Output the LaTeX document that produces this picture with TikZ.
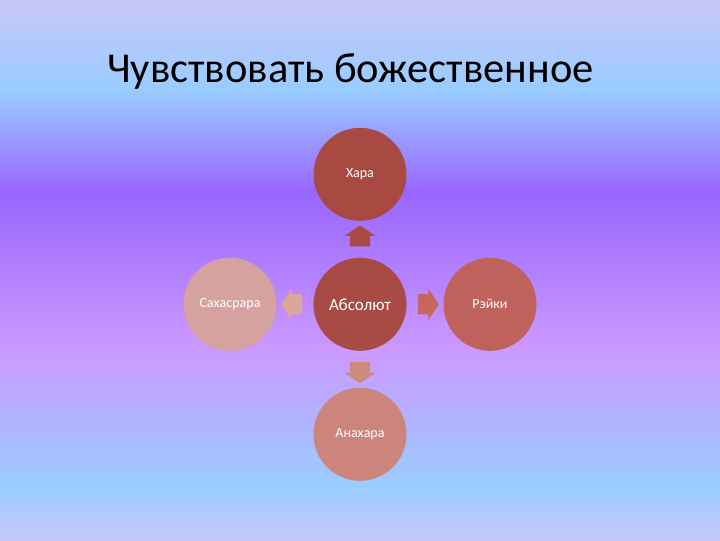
\documentclass[tikz,border=0pt]{standalone}
\usepackage{fontspec}
\setmainfont{Carlito}
\usetikzlibrary{positioning,shapes.arrows,calc}

\definecolor{bgLav}{HTML}{C8C8F8}
\definecolor{bgBlue}{HTML}{99CCFF}
\definecolor{bgPurple}{HTML}{9966FF}
\definecolor{bgViolet}{HTML}{CC99FF}
\definecolor{haraRed}{HTML}{A84A42}
\definecolor{hubRed}{HTML}{A94B45}
\definecolor{reikiRed}{HTML}{BF625B}
\definecolor{anaharaPink}{HTML}{CC857D}
\definecolor{sahasPink}{HTML}{D5A2A0}
\definecolor{leftArrPink}{HTML}{D9A698}
\definecolor{rightArrRed}{HTML}{C4685E}
\definecolor{downArrPink}{HTML}{CE8A7A}

\tikzset{
  bubble/.style={shape=circle,minimum size=93pt,inner sep=0pt,text=white,font=\fontsize{14}{16}\selectfont},
  blockarr/.style={single arrow,minimum height=21pt,inner xsep=0pt,inner ysep=10pt,
    single arrow head extend=5.5pt,single arrow tip angle=112}
}

\begin{document}
\begin{tikzpicture}[x=1pt,y=1pt,node distance=130pt]
		% background bands
		\foreach \ya/\yb/\ca/\cb in {450/540/bgBlue/bgLav,350/450/bgPurple/bgBlue,190/350/bgViolet/bgPurple,55/190/bgBlue/bgViolet,0/55/bgLav/bgBlue}
			\shade[bottom color=\ca,top color=\cb] (0,\ya-0.3) rectangle (720,\yb+0.3);
		\useasboundingbox (0,0) rectangle (720,540);

		\node[anchor=base,font=\fontsize{42.5}{50}\selectfont] (title) at (350.5,458) {Чувствовать божественное};

		\node[bubble,fill=hubRed,font=\fontsize{17}{20}\selectfont] (absolut) at (360,236) {Абсолют};
		\node[bubble,fill=haraRed] (hara) [above of=absolut] {Хара};
		\node[bubble,fill=anaharaPink] (anahara) [below of=absolut] {Анахара};
		\node[bubble,fill=sahasPink] (sahasrara) [left of=absolut] {Сахасрара};
		\node[bubble,fill=reikiRed] (reiki) [right of=absolut] {Рэйки};

		\node[blockarr,fill=haraRed,rotate=90] (upArr) at ($(absolut)!0.5!(hara)$) {};
		\node[blockarr,fill=downArrPink,rotate=270] (downArr) at ($(absolut)!0.5!(anahara)$) {};
		\node[blockarr,fill=leftArrPink,rotate=180] (leftArr) at ($(absolut)!0.5!(sahasrara)$) {};
		\node[blockarr,fill=rightArrRed] (rightArr) at ($(absolut)!0.5!(reiki)$) {};
\end{tikzpicture}
\end{document}
